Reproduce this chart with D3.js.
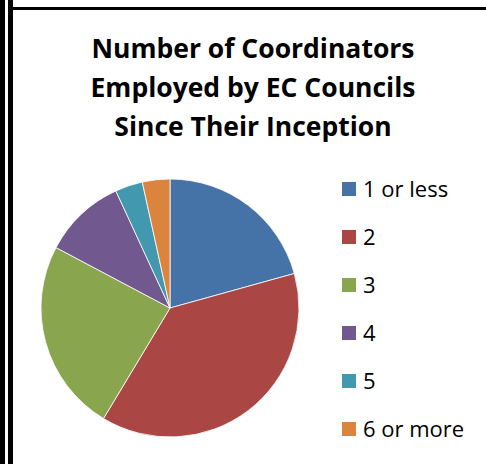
<!DOCTYPE html>
<html>
<head>
<meta charset="utf-8">
<script src="https://cdn.jsdelivr.net/npm/d3@7"></script>
<style>
  html, body { margin: 0; padding: 0; background: #fff; }
  svg { display: block; }
  text { font-variant-ligatures: none; }
</style>
</head>
<body>
<svg id="chart" width="486" height="464"></svg>
<script>
// Coordinator counts per council
const categories = ["1 or less", "2", "3", "4", "5", "6 or more"];
const counts = [6, 11, 7, 3, 1, 1];
const colors = ["#4572A7", "#AA4643", "#89A54E", "#71588F", "#4198AF", "#DB843D"];
const titleLines = ["Number of Coordinators", "Employed by EC Councils", "Since Their Inception"];

const svg = d3.select("#chart");
const W = 486, H = 464;
const font = "'Open Sans', Lato, sans-serif";

// frame: double bar on the left, rule along the top
svg.append("rect").attr("x", 0).attr("y", 0).attr("width", 5).attr("height", H).attr("fill", "#000");
svg.append("rect").attr("x", 8).attr("y", 0).attr("width", 5).attr("height", H).attr("fill", "#000");
svg.append("rect").attr("x", 8).attr("y", 7).attr("width", W - 8).attr("height", 3).attr("fill", "#000");

// title
svg.append("g").selectAll("text").data(titleLines).join("text")
  .attr("x", 253)
  .attr("y", (d, i) => 58 + i * 39)
  .attr("text-anchor", "middle")
  .attr("font-family", font)
  .attr("font-weight", "bold")
  .attr("font-size", 26.5)
  .attr("fill", "#000")
  .text(d => d);

// pie
const cx = 170, cy = 308, r = 129;
const pie = d3.pie().sort(null).value(d => d)(counts);
const arc = d3.arc().innerRadius(0).outerRadius(r);
svg.append("g").attr("transform", `translate(${cx},${cy})`)
  .selectAll("path").data(pie).join("path")
  .attr("d", arc)
  .attr("fill", (d, i) => colors[i])
  .attr("stroke", "#fff")
  .attr("stroke-width", 0.8);

// legend
const y = d3.scalePoint().domain(categories).range([189, 429]);
const lg = svg.append("g").selectAll("g").data(categories).join("g")
  .attr("transform", d => `translate(342,${y(d)})`);
lg.append("rect").attr("x", 0).attr("y", -7).attr("width", 14).attr("height", 14)
  .attr("fill", (d, i) => colors[i]);
lg.append("text").attr("x", 21).attr("y", 8)
  .attr("font-family", font).attr("font-size", 22).attr("fill", "#000")
  .text(d => d);
</script>
</body>
</html>
